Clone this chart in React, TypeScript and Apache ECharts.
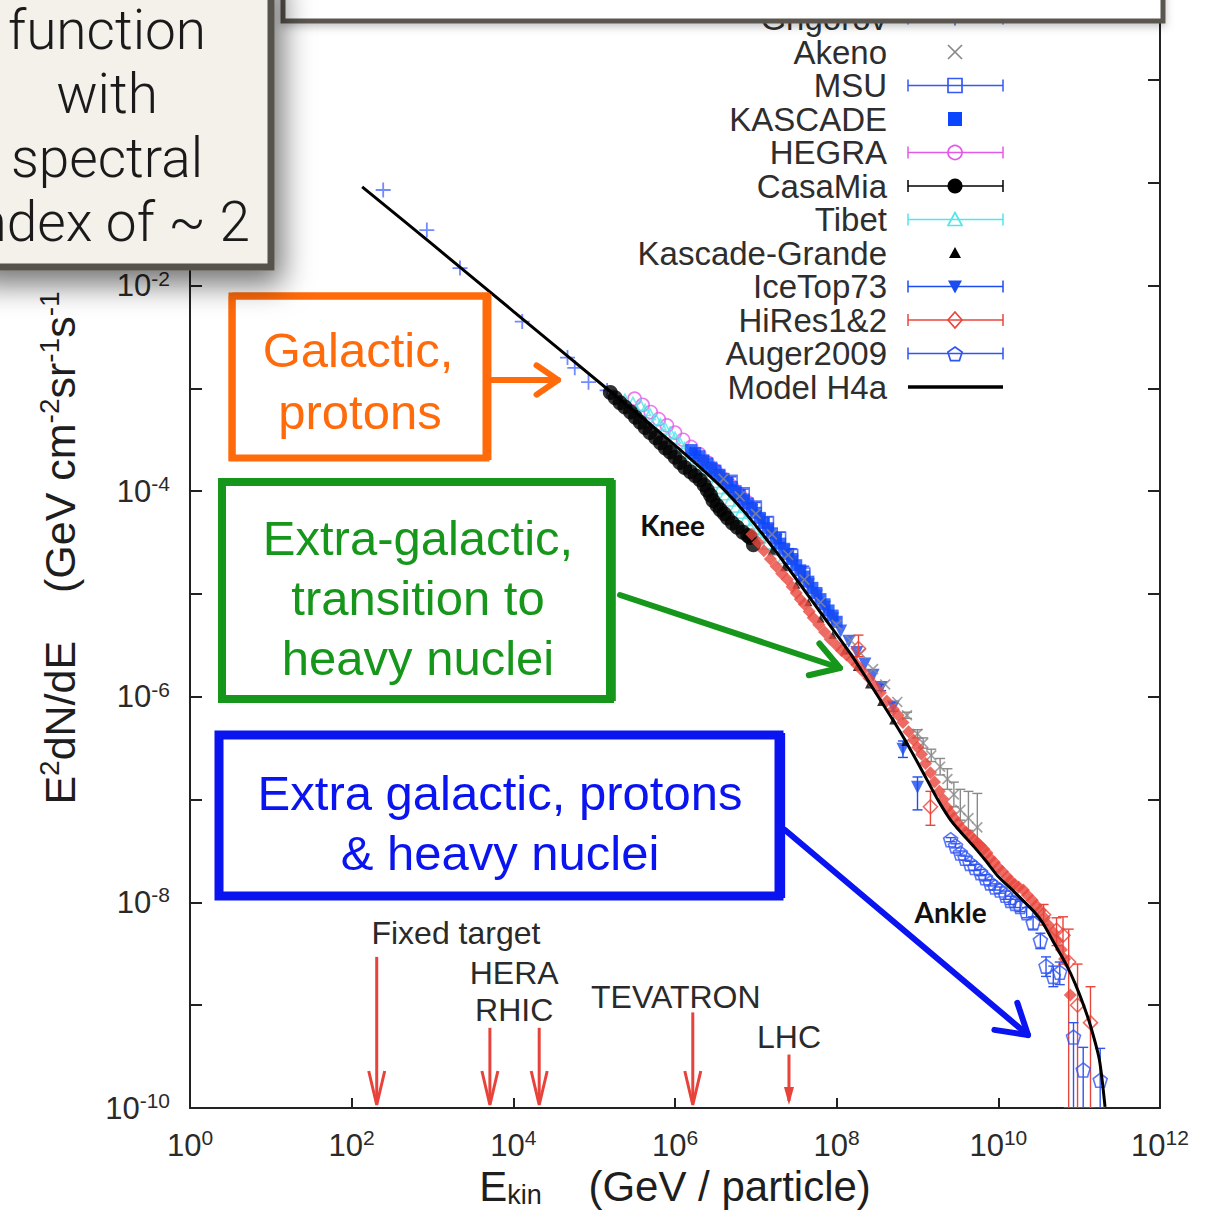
import React, { useEffect, useRef } from "react";
import * as echarts from "echarts";

// Every value is a decimal exponent:
//   x = log10(E_kin / GeV),  y = log10(E^2 dN/dE / GeV cm^-2 sr^-1 s^-1)
// Rows with four numbers are [x, y, errorDown, errorUp] (errors in decades).
type P = [number, number];
type Q = [number, number, number, number];

const xTickExponents = [0, 2, 4, 6, 8, 10, 12];
const yLabelExponents = [-10, -8, -6, -4, -2];

const grigorov: P[] = [
  [2.39, -1.07], [2.93, -1.46], [3.34, -1.83], [4.11, -2.35],
  [4.67, -2.7], [4.76, -2.8], [4.93, -2.94], [5.16, -3.02],
];

const hegra: P[] = [
  [5.5, -3.1], [5.6, -3.16], [5.7, -3.23], [5.8, -3.3], [5.9, -3.36], [6.0, -3.43],
  [6.1, -3.5], [6.2, -3.57], [6.3, -3.64], [6.4, -3.72], [6.5, -3.8], [6.6, -3.88],
  [6.7, -3.95], [6.8, -4.03], [6.9, -4.11],
];

const tibet: P[] = [
  [5.38, -3.11], [5.48, -3.14], [5.57, -3.16], [5.63, -3.21], [5.69, -3.25], [5.76, -3.3],
  [5.82, -3.35], [5.88, -3.39], [5.94, -3.43], [6.0, -3.48], [6.06, -3.53], [6.12, -3.58],
  [6.19, -3.63], [6.25, -3.68], [6.31, -3.74], [6.38, -3.79], [6.44, -3.85], [6.5, -3.91],
  [6.56, -3.97], [6.62, -4.03], [6.68, -4.09], [6.75, -4.15], [6.81, -4.21], [6.87, -4.28],
  [6.93, -4.35], [7.0, -4.4], [7.05, -4.45], [7.14, -4.51], [7.22, -4.57], [7.34, -4.65],
];

const casaMia: P[] = [
  [5.2, -3.04], [5.26, -3.09], [5.32, -3.14], [5.38, -3.18], [5.45, -3.23], [5.51, -3.28],
  [5.57, -3.33], [5.63, -3.38], [5.69, -3.43], [5.76, -3.48], [5.82, -3.53], [5.88, -3.58],
  [5.94, -3.62], [6.0, -3.67], [6.06, -3.72], [6.12, -3.77], [6.19, -3.81], [6.25, -3.85],
  [6.31, -3.89], [6.36, -3.94], [6.4, -3.99], [6.44, -4.04], [6.47, -4.09], [6.52, -4.14],
  [6.56, -4.18], [6.61, -4.22], [6.65, -4.26], [6.71, -4.31], [6.77, -4.35], [6.84, -4.4],
  [6.9, -4.43], [6.93, -4.45], [6.97, -4.52],
];

const msu: Q[] = [
  [6.7, -3.9, 0.04, 0.04], [6.85, -4.02, 0.04, 0.04], [7.0, -4.15, 0.04, 0.04],
  [7.15, -4.3, 0.05, 0.05], [7.3, -4.45, 0.05, 0.05], [7.45, -4.62, 0.06, 0.06],
  [7.6, -4.8, 0.07, 0.07],
];

const kascade: P[] = [
  [6.2, -3.6], [6.25, -3.63], [6.3, -3.66], [6.35, -3.7], [6.4, -3.73], [6.45, -3.77],
  [6.5, -3.8], [6.55, -3.84], [6.6, -3.88], [6.65, -3.92], [6.7, -3.96], [6.75, -4.0],
  [6.8, -4.04], [6.85, -4.08], [6.9, -4.12], [6.95, -4.17], [7.0, -4.21], [7.05, -4.26],
  [7.1, -4.31], [7.15, -4.36], [7.2, -4.41], [7.25, -4.46], [7.3, -4.51], [7.35, -4.56],
  [7.4, -4.61], [7.45, -4.66], [7.5, -4.72], [7.55, -4.77], [7.6, -4.83], [7.65, -4.88],
  [7.7, -4.94], [7.75, -4.99], [7.8, -5.05], [7.85, -5.1], [7.9, -5.16], [7.95, -5.21], [8.0, -5.27],
];

const iceTop73: Q[] = [
  [6.35, -3.72, 0, 0], [6.45, -3.79, 0, 0], [6.55, -3.86, 0, 0], [6.65, -3.94, 0, 0],
  [6.75, -4.02, 0, 0], [6.85, -4.1, 0, 0], [6.95, -4.19, 0, 0], [7.05, -4.28, 0, 0],
  [7.15, -4.38, 0, 0], [7.25, -4.48, 0, 0], [7.35, -4.58, 0, 0], [7.45, -4.69, 0, 0],
  [7.55, -4.8, 0, 0], [7.65, -4.91, 0, 0], [7.75, -5.02, 0, 0], [7.85, -5.13, 0, 0],
  [7.95, -5.24, 0, 0], [8.05, -5.36, 0, 0], [8.15, -5.46, 0, 0], [8.25, -5.57, 0, 0],
  [8.35, -5.68, 0, 0], [8.45, -5.79, 0, 0], [8.55, -5.91, 0.03, 0.03], [8.7, -6.1, 0.04, 0.04],
  [8.82, -6.51, 0.08, 0.08], [9.0, -6.88, 0.22, 0.1],
];

const kascadeGrande: P[] = [
  [7.2, -4.58], [7.35, -4.74], [7.5, -4.91], [7.65, -5.08], [7.8, -5.24], [7.95, -5.4],
  [8.1, -5.55], [8.25, -5.71], [8.4, -5.88], [8.55, -6.05], [8.7, -6.23], [8.85, -6.44],
];

const akeno: Q[] = [
  [6.6, -3.88, 0, 0], [6.8, -4.05, 0, 0], [7.0, -4.22, 0, 0], [7.2, -4.42, 0, 0],
  [7.4, -4.62, 0, 0], [7.6, -4.86, 0, 0], [7.8, -5.08, 0, 0], [8.0, -5.3, 0, 0],
  [8.17, -5.45, 0, 0], [8.3, -5.58, 0, 0], [8.45, -5.73, 0, 0], [8.6, -5.88, 0, 0],
  [8.75, -6.05, 0, 0], [8.87, -6.18, 0.03, 0.03], [9.0, -6.36, 0.04, 0.04],
  [9.07, -6.45, 0.05, 0.05], [9.17, -6.57, 0.06, 0.06], [9.28, -6.68, 0.08, 0.08],
  [9.37, -6.8, 0.1, 0.1], [9.45, -6.95, 0.12, 0.12], [9.53, -7.1, 0.1, 0.2],
  [9.63, -7.18, 0.12, 0.26], [9.74, -7.27, 0.15, 0.33],
];

const hiResDense: P[] = [
  [6.95, -4.42], [7.03, -4.5], [7.1, -4.58], [7.18, -4.66], [7.25, -4.73], [7.32, -4.8],
  [7.39, -4.86], [7.45, -4.93], [7.5, -4.99], [7.55, -5.05], [7.6, -5.1], [7.66, -5.17],
  [7.71, -5.23], [7.78, -5.3], [7.85, -5.37], [7.92, -5.44], [8.0, -5.5], [8.06, -5.55],
  [8.12, -5.59], [8.19, -5.64], [8.25, -5.69], [8.32, -5.75], [8.4, -5.82], [8.47, -5.89],
  [8.54, -5.96], [8.62, -6.04], [8.7, -6.12], [8.76, -6.18], [8.82, -6.25], [8.89, -6.34],
  [8.95, -6.42], [9.0, -6.49], [9.05, -6.56], [9.1, -6.65], [9.16, -6.74], [9.21, -6.83],
  [9.27, -6.92], [9.32, -7.0], [9.37, -7.08], [9.41, -7.13], [9.45, -7.18], [9.5, -7.23],
  [9.55, -7.28], [9.6, -7.32], [9.65, -7.35], [9.7, -7.39], [9.74, -7.42], [9.78, -7.45],
  [9.82, -7.48], [9.86, -7.52], [9.9, -7.57], [9.95, -7.61], [10.0, -7.66], [10.05, -7.7],
  [10.11, -7.75], [10.15, -7.79], [10.2, -7.82], [10.25, -7.85], [10.31, -7.88], [10.36, -7.93],
  [10.42, -7.98], [10.47, -8.03], [10.52, -8.08], [10.57, -8.15], [10.62, -8.22], [10.68, -8.29],
  [10.73, -8.37], [10.78, -8.46], [10.82, -8.55], [10.89, -8.9],
];

const hiResSparse: Q[] = [
  [8.27, -5.53, 0.08, 0.13], [9.16, -7.07, 0.18, 0.15], [10.56, -8.12, 0.1, 0.1],
  [10.72, -8.27, 0.15, 0.12], [10.8, -8.32, 0.28, 0.18], [10.87, -8.58, 1.42, 0.32],
  [10.98, -9.0, 1.0, 0.4], [11.14, -9.17, 0.83, 0.35],
];

const auger2009: Q[] = [
  [9.41, -7.39, 0.02, 0.02], [9.47, -7.45, 0.02, 0.02], [9.53, -7.52, 0.02, 0.02],
  [9.59, -7.57, 0.02, 0.02], [9.65, -7.62, 0.02, 0.02], [9.71, -7.66, 0.03, 0.03],
  [9.78, -7.71, 0.03, 0.03], [9.84, -7.76, 0.03, 0.03], [9.9, -7.81, 0.03, 0.03],
  [9.96, -7.85, 0.03, 0.03], [10.02, -7.88, 0.03, 0.03], [10.09, -7.93, 0.04, 0.04],
  [10.15, -7.98, 0.04, 0.04], [10.21, -8.01, 0.04, 0.04], [10.27, -8.04, 0.05, 0.05],
  [10.35, -8.1, 0.05, 0.05], [10.43, -8.2, 0.06, 0.06], [10.52, -8.37, 0.08, 0.07],
  [10.59, -8.62, 0.1, 0.09], [10.68, -8.72, 0.1, 0.1], [10.76, -8.68, 0.12, 0.1],
  [10.93, -9.31, 0.69, 0.14], [11.05, -9.63, 0.37, 0.22], [11.26, -9.73, 0.27, 0.31],
];

const modelH4a: P[] = [
  [2.13, -1.04], [3, -1.6], [4, -2.25], [5.2, -3.03], [5.8, -3.42], [6.3, -3.76],
  [6.6, -3.98], [6.9, -4.24], [7.3, -4.64], [7.8, -5.18], [8.17, -5.58], [8.45, -5.92],
  [8.8, -6.36], [9.03, -6.68], [9.25, -7.0], [9.41, -7.2], [9.55, -7.33], [9.7, -7.46],
  [9.85, -7.6], [9.99, -7.74], [10.2, -7.9], [10.43, -8.08], [10.55, -8.2], [10.7, -8.41],
  [10.85, -8.62], [10.95, -8.79], [11.05, -8.99], [11.14, -9.2], [11.25, -9.53], [11.32, -9.99],
];

// Accelerator reach (x) with the height where each arrow starts (y)
const accelerators = [
  { logE: 2.31, top: -8.53, head: "open" },
  { logE: 3.71, top: -9.22, head: "open" },
  { logE: 4.32, top: -9.22, head: "open" },
  { logE: 6.22, top: -9.07, head: "open" },
  { logE: 7.41, top: -9.48, head: "solid" },
];
const acceleratorLabels = [
  { text: "Fixed target", logE: 3.29, logF: -8.3 },
  { text: "HERA", logE: 4.01, logF: -8.69 },
  { text: "RHIC", logE: 4.01, logF: -9.05 },
  { text: "TEVATRON", logE: 6.01, logF: -8.92 },
  { text: "LHC", logE: 7.41, logF: -9.31 },
];
const featureLabels = [
  { text: "Knee", logE: 5.97, logF: -4.33 },
  { text: "Ankle", logE: 9.41, logF: -8.09 },
];

const legendNames = [
  "Grigorov", "Akeno", "MSU", "KASCADE", "HEGRA", "CasaMia", "Tibet",
  "Kascade-Grande", "IceTop73", "HiRes1&2", "Auger2009", "Model H4a",
];

const C = {
  grigorov: "#4f6dff",
  akeno: "#8a8a8a",
  msu: "#3658f5",
  kascade: "#0a45ff",
  hegra: "#e45ae8",
  casaMia: "#000000",
  tibet: "#52e6ea",
  kGrande: "#000000",
  iceTop: "#1b4cf0",
  hiRes: "#e8463c",
  auger: "#3155f2",
  model: "#000000",
};

const legendStyle: Record<string, { kind: string; color: string; bar: boolean }> = {
  Grigorov: { kind: "plus", color: C.grigorov, bar: true },
  Akeno: { kind: "cross", color: C.akeno, bar: false },
  MSU: { kind: "squareOpen", color: C.msu, bar: true },
  KASCADE: { kind: "square", color: C.kascade, bar: false },
  HEGRA: { kind: "circleOpen", color: C.hegra, bar: true },
  CasaMia: { kind: "circle", color: C.casaMia, bar: true },
  Tibet: { kind: "triangleOpen", color: C.tibet, bar: true },
  "Kascade-Grande": { kind: "triangle", color: C.kGrande, bar: false },
  IceTop73: { kind: "triangleDown", color: C.iceTop, bar: true },
  "HiRes1&2": { kind: "diamondOpen", color: C.hiRes, bar: true },
  Auger2009: { kind: "pentagonOpen", color: C.auger, bar: true },
  "Model H4a": { kind: "line", color: C.model, bar: false },
};

const PLUS = "path://M4.4,0h1.2v4.4h4.4v1.2h-4.4v4.4h-1.2v-4.4h-4.4v-1.2h4.4z";
const PENTAGON = "path://M5,0L10,3.63L8.09,9.51L1.91,9.51L0,3.63Z";

const SANS = '"Liberation Sans", Arial, Helvetica, sans-serif';
const CLEAR = "rgba(255,255,255,0)";

function scatter(name: string, data: any[], symbol: string, size: number, color: string, open: boolean, z: number, rotate = 0) {
  return {
    type: "scatter",
    name,
    data,
    symbol,
    symbolSize: size,
    symbolRotate: rotate,
    z,
    silent: true,
    itemStyle: open
      ? { color: CLEAR, borderColor: color, borderWidth: 1.6 }
      : { color },
  };
}

function errorBars(data: Q[], color: string, z: number) {
  return {
    type: "custom",
    data,
    z,
    silent: true,
    clip: true,
    encode: { x: 0, y: 1 },
    renderItem: (_params: any, api: any) => {
      const x = api.value(0);
      const y = api.value(1);
      const dl = api.value(2);
      const dh = api.value(3);
      if (!dl && !dh) return null;
      const top = api.coord([x, y + dh]);
      const bot = api.coord([x, Math.max(-10, y - dl)]);
      const c = 5;
      const st = { stroke: color, lineWidth: 1.4 };
      return {
        type: "group",
        children: [
          { type: "line", shape: { x1: top[0], y1: top[1], x2: bot[0], y2: bot[1] }, style: st },
          { type: "line", shape: { x1: top[0] - c, y1: top[1], x2: top[0] + c, y2: top[1] }, style: st },
          { type: "line", shape: { x1: bot[0] - c, y1: bot[1], x2: bot[0] + c, y2: bot[1] }, style: st },
        ],
      };
    },
  };
}

const tickRich = {
  b: { fontSize: 31, lineHeight: 36, fontFamily: SANS, color: "#2a2a2a" },
  s: { fontSize: 21, lineHeight: 21, verticalAlign: "top", fontFamily: SANS, color: "#2a2a2a" },
};

const axisLineStyle = { color: "#222", width: 2 };

// the top of the plotting frame lies just above the visible page
const Y_MAX = 0.778;

const option: any = {
  animation: false,
  backgroundColor: "#ffffff",
  grid: { left: 190, right: 49, top: 0, bottom: 103, containLabel: false },
  xAxis: {
    type: "value",
    min: 0,
    max: 12,
    interval: 2,
    axisLine: { show: true, onZero: false, lineStyle: axisLineStyle },
    axisTick: { show: true, inside: true, length: 10, lineStyle: axisLineStyle },
    splitLine: { show: false },
    axisLabel: {
      margin: 19,
      formatter: (v: number) => (xTickExponents.includes(v) ? `{b|10}{s|${v}}` : ""),
      rich: tickRich,
    },
  },
  yAxis: [
    {
      type: "value",
      min: -10,
      max: Y_MAX,
      interval: 1,
      position: "left",
      axisLine: { show: true, onZero: false, lineStyle: axisLineStyle },
      axisTick: { show: true, inside: true, length: 12, lineStyle: axisLineStyle },
      splitLine: { show: false },
      axisLabel: {
        margin: 20,
        showMaxLabel: false,
        formatter: (v: number) => (yLabelExponents.includes(v) ? `{b|10}{s|${v}}` : ""),
        rich: tickRich,
      },
    },
    {
      type: "value",
      min: -10,
      max: Y_MAX,
      interval: 1,
      position: "right",
      axisLine: { show: true, onZero: false, lineStyle: axisLineStyle },
      axisTick: { show: true, inside: true, length: 12, lineStyle: axisLineStyle },
      splitLine: { show: false },
      axisLabel: { show: false },
    },
  ],
  series: [
    scatter("Grigorov", grigorov, PLUS, 15, C.grigorov, false, 2),
    scatter("HEGRA", hegra, "circle", 13, C.hegra, true, 3),
    scatter("Tibet", tibet, "triangle", 11, C.tibet, true, 4),
    scatter("CasaMia", casaMia, "circle", 15, C.casaMia, false, 5),
    errorBars(msu, C.msu, 6),
    scatter("MSU", msu, "rect", 11, C.msu, true, 6),
    scatter("KASCADE", kascade, "rect", 12, C.kascade, false, 7),
    errorBars(iceTop73, C.iceTop, 8),
    scatter("IceTop73", iceTop73, "triangle", 13, C.iceTop, false, 8, 180),
    scatter("Kascade-Grande", kascadeGrande, "triangle", 8, C.kGrande, false, 9),
    errorBars(akeno, C.akeno, 10),
    scatter("Akeno", akeno, PLUS, 14, C.akeno, false, 10, 45),
    scatter("HiRes1&2", hiResDense, "diamond", 13, C.hiRes, false, 11),
    errorBars(hiResSparse, C.hiRes, 12),
    scatter("HiRes1&2", hiResSparse, "diamond", 14, C.hiRes, true, 12),
    errorBars(auger2009, C.auger, 13),
    scatter("Auger2009", auger2009, PENTAGON, 14, C.auger, true, 13),
    {
      type: "line",
      name: "Model H4a",
      data: modelH4a,
      showSymbol: false,
      smooth: 0.25,
      silent: true,
      z: 20,
      lineStyle: { color: C.model, width: 3 },
    },
  ],
};

function legendMarker(kind: string, cx: number, cy: number, color: string): any[] {
  const s = { stroke: color, lineWidth: 1.7, fill: CLEAR };
  const f = { fill: color };
  switch (kind) {
    case "plus":
      return [
        { type: "line", shape: { x1: cx - 7, y1: cy, x2: cx + 7, y2: cy }, style: s },
        { type: "line", shape: { x1: cx, y1: cy - 7, x2: cx, y2: cy + 7 }, style: s },
      ];
    case "cross":
      return [
        { type: "line", shape: { x1: cx - 7, y1: cy - 7, x2: cx + 7, y2: cy + 7 }, style: s },
        { type: "line", shape: { x1: cx - 7, y1: cy + 7, x2: cx + 7, y2: cy - 7 }, style: s },
      ];
    case "squareOpen":
      return [{ type: "rect", shape: { x: cx - 7, y: cy - 7, width: 14, height: 14 }, style: s }];
    case "square":
      return [{ type: "rect", shape: { x: cx - 7, y: cy - 7, width: 14, height: 14 }, style: f }];
    case "circleOpen":
      return [{ type: "circle", shape: { cx, cy, r: 7 }, style: s }];
    case "circle":
      return [{ type: "circle", shape: { cx, cy, r: 7.5 }, style: f }];
    case "triangleOpen":
      return [{ type: "polygon", shape: { points: [[cx, cy - 7], [cx + 7, cy + 6], [cx - 7, cy + 6]] }, style: s }];
    case "triangle":
      return [{ type: "polygon", shape: { points: [[cx, cy - 6], [cx + 6, cy + 5], [cx - 6, cy + 5]] }, style: f }];
    case "triangleDown":
      return [{ type: "polygon", shape: { points: [[cx - 7, cy - 6], [cx + 7, cy - 6], [cx, cy + 7]] }, style: f }];
    case "diamondOpen":
      return [{ type: "polygon", shape: { points: [[cx, cy - 8], [cx + 7, cy], [cx, cy + 8], [cx - 7, cy]] }, style: s }];
    case "pentagonOpen": {
      const pts: number[][] = [];
      for (let i = 0; i < 5; i++) {
        const a = -Math.PI / 2 + (i * 2 * Math.PI) / 5;
        pts.push([cx + 7.5 * Math.cos(a), cy + 1 + 7.5 * Math.sin(a)]);
      }
      return [{ type: "polygon", shape: { points: pts }, style: s }];
    }
    default:
      return [{ type: "line", shape: { x1: 908, y1: cy, x2: 1003, y2: cy }, style: { stroke: color, lineWidth: 3.5 } }];
  }
}

function chevron(x1: number, y1: number, x2: number, y2: number, len: number, spread: number, color: string, lw: number) {
  const a = Math.atan2(y2 - y1, x2 - x1);
  const p1 = [x2 - len * Math.cos(a - spread), y2 - len * Math.sin(a - spread)];
  const p2 = [x2 - len * Math.cos(a + spread), y2 - len * Math.sin(a + spread)];
  return [
    { type: "line", shape: { x1, y1, x2, y2 }, style: { stroke: color, lineWidth: lw, lineCap: "round" } },
    { type: "polyline", shape: { points: [p1, [x2, y2], p2] }, style: { stroke: color, lineWidth: lw, lineCap: "round", lineJoin: "round", fill: CLEAR } },
  ];
}

function roughBox(x: number, y: number, w: number, h: number, color: string, lw: number) {
  const st = (k: number) => ({ stroke: color, lineWidth: lw * k, fill: CLEAR });
  return [
    { type: "rect", shape: { x, y, width: w, height: h }, style: { ...st(1), fill: "#ffffff" } },
    { type: "rect", shape: { x: x + 2, y: y - 2, width: w - 1, height: h + 2 }, style: st(0.45) },
    { type: "rect", shape: { x: x - 2, y: y + 2, width: w + 2, height: h - 1 }, style: st(0.4) },
    { type: "line", shape: { x1: x + w + 3, y1: y - 2, x2: x + w + 3, y2: y + h + 2 }, style: { stroke: color, lineWidth: lw * 0.7 } },
  ];
}

function boxText(text: string, x: number, y: number, color: string, size = 49) {
  return {
    type: "text",
    x,
    y,
    style: { text, fill: color, font: `${size}px ${SANS}`, align: "center", verticalAlign: "middle" },
  };
}

function buildGraphics(chart: any) {
  const toPx = (p: number[]) => chart.convertToPixel({ xAxisIndex: 0, yAxisIndex: 0 }, p) as number[];
  const els: any[] = [];
  const add = (z: number, list: any[]) => list.forEach((e) => els.push({ ...e, z: z + els.length * 0.0001 }));

  // accelerator energy arrows
  const red = "#e8433a";
  accelerators.forEach((a) => {
    const t = toPx([a.logE, a.top]);
    const b = toPx([a.logE, -10]);
    const tipY = b[1] - 3;
    add(100, [{ type: "line", shape: { x1: t[0], y1: t[1], x2: t[0], y2: tipY - 4 }, style: { stroke: red, lineWidth: 3 } }]);
    if (a.head === "open") {
      add(100, [{
        type: "polyline",
        shape: { points: [[t[0] - 8, tipY - 34], [t[0], tipY], [t[0] + 8, tipY - 34]] },
        style: { stroke: red, lineWidth: 3, fill: CLEAR, lineJoin: "miter" },
      }]);
    } else {
      add(100, [{
        type: "polygon",
        shape: { points: [[t[0] - 5, tipY - 18], [t[0], tipY], [t[0] + 5, tipY - 18]] },
        style: { fill: red },
      }]);
    }
  });
  acceleratorLabels.forEach((l) => {
    const p = toPx([l.logE, l.logF]);
    add(100, [{
      type: "text", x: p[0], y: p[1],
      style: { text: l.text, fill: "#2a2a2a", font: `32px ${SANS}`, align: "center", verticalAlign: "middle" },
    }]);
  });
  featureLabels.forEach((l) => {
    const p = toPx([l.logE, l.logF]);
    add(100, [{
      type: "text", x: p[0], y: p[1],
      style: { text: l.text, fill: "#111", font: `bold 28px Lato, "Open Sans", sans-serif`, align: "center", verticalAlign: "middle" },
    }]);
  });

  // legend
  legendNames.forEach((name, i) => {
    const cy = 18.5 + i * 33.5;
    const st = legendStyle[name];
    add(100, [{
      type: "text", x: 887, y: cy,
      style: { text: name, fill: "#2e2e2e", font: `33px ${SANS}`, align: "right", verticalAlign: "middle" },
    }]);
    if (st.bar) {
      const bs = { stroke: st.color, lineWidth: 1.5 };
      add(100, [
        { type: "line", shape: { x1: 908, y1: cy, x2: 1003, y2: cy }, style: bs },
        { type: "line", shape: { x1: 908, y1: cy - 6, x2: 908, y2: cy + 6 }, style: bs },
        { type: "line", shape: { x1: 1003, y1: cy - 6, x2: 1003, y2: cy + 6 }, style: bs },
      ]);
    }
    add(101, legendMarker(st.kind, 955, cy, st.color));
  });

  // axis titles
  add(100, [{
    type: "text", x: 675, y: 1186,
    style: {
      text: "{m|E}{sub|kin}{m|    (GeV / particle)}",
      align: "center", verticalAlign: "middle", fill: "#1e1e1e",
      rich: {
        m: { fontSize: 42, lineHeight: 44, fontFamily: SANS, fill: "#1e1e1e" },
        sub: { fontSize: 27, lineHeight: 22, verticalAlign: "bottom", fontFamily: SANS, fill: "#1e1e1e" },
      },
    },
  }]);
  add(100, [{
    type: "text", x: 60, y: 548, rotation: Math.PI / 2,
    style: {
      text: "{m|E}{s|2}{m|dN/dE    (GeV cm}{s|-2}{m|sr}{s|-1}{m|s}{s|-1}",
      align: "center", verticalAlign: "middle", fill: "#1e1e1e",
      rich: {
        m: { fontSize: 43, lineHeight: 50, fontFamily: SANS, fill: "#1e1e1e" },
        s: { fontSize: 28, lineHeight: 28, verticalAlign: "top", fontFamily: SANS, fill: "#1e1e1e" },
      },
    },
  }]);

  // coloured explanation boxes with arrows
  const orange = "#ff6a0a";
  const green = "#16961a";
  const blue = "#0a14f0";
  add(110, roughBox(232, 296, 254, 162, orange, 7));
  add(111, [boxText("Galactic,", 358, 350, orange), boxText("protons", 360, 412, orange)]);
  add(110, chevron(492, 380, 558, 380, 26, 0.6, orange, 6));

  add(110, roughBox(222, 482, 388, 217, green, 8));
  add(111, [
    boxText("Extra-galactic,", 418, 538, green),
    boxText("transition to", 418, 598, green),
    boxText("heavy nuclei", 418, 658, green),
  ]);
  add(110, chevron(620, 595, 840, 668, 32, 0.55, green, 6));

  add(110, roughBox(219, 735, 560, 161, blue, 9));
  add(111, [boxText("Extra galactic, protons", 500, 793, blue), boxText("& heavy nuclei", 500, 853, blue)]);
  add(110, chevron(785, 830, 1028, 1035, 34, 0.55, blue, 6));

  // boxes along the top edge
  add(150, [{
    type: "rect", shape: { x: 283, y: -40, width: 880, height: 61 },
    style: { fill: "#ffffff", stroke: "#5a5650", lineWidth: 5, shadowBlur: 8, shadowOffsetY: 3, shadowColor: "rgba(0,0,0,0.25)" },
  }]);
  add(160, [{
    type: "rect", shape: { x: -30, y: -30, width: 301, height: 297 },
    style: {
      fill: "#f3f1ea", stroke: "#57534d", lineWidth: 7,
      shadowBlur: 30, shadowOffsetX: 8, shadowOffsetY: 14, shadowColor: "rgba(0,0,0,0.55)",
    },
  }]);
  add(170, ["function", "with", "spectral", "index of ~ 2"].map((t, i) => ({
    type: "text", x: 107, y: 30 + i * 64,
    style: { text: t, fill: "#1a1a1a", font: `300 55px Roboto, ${SANS}`, align: "center", verticalAlign: "middle" },
  })));

  return els.map((e, i) => ({ ...e, id: "g" + i }));
}

export default function App() {
  const ref = useRef<HTMLDivElement>(null);
  useEffect(() => {
    const chart = echarts.init(ref.current as HTMLDivElement, null, { renderer: "svg" });
    chart.setOption(option);
    chart.setOption({ graphic: { elements: buildGraphics(chart) } });
    return () => chart.dispose();
  }, []);
  return (
    <div
      ref={ref}
      style={{ position: "absolute", left: 0, top: 0, width: 1209, height: 1211, background: "#fff" }}
    />
  );
}
